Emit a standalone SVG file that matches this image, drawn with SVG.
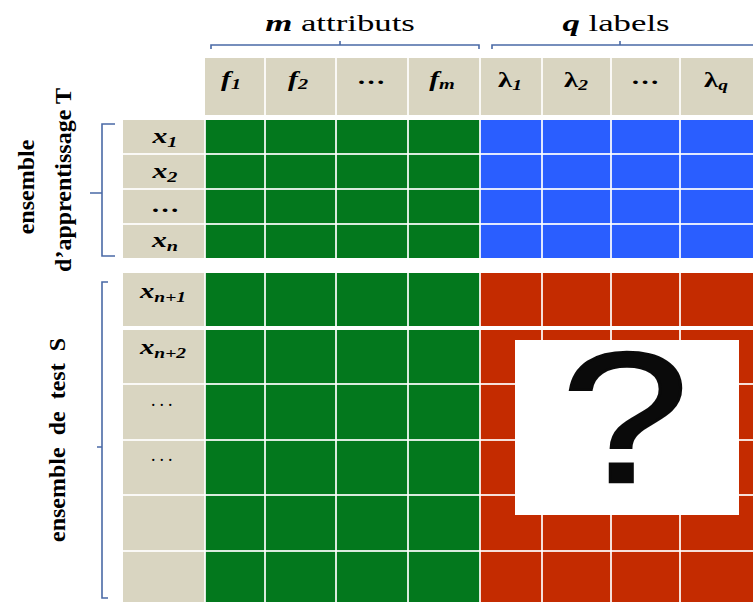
<svg xmlns="http://www.w3.org/2000/svg" width="753" height="602" viewBox="0 0 753 602">
<defs>
<style>
.g{fill:#03781d}.b{fill:#2a5eff}.r{fill:#c42b00}.h{fill:#d9d5c1}
.grid{stroke:#ffffff;stroke-width:2;stroke-opacity:0.85}
.br{fill:none;stroke:#4a6aa6;stroke-width:1.6}
.rot{font-family:"Liberation Serif","Times New Roman",serif;font-weight:bold;font-size:24px;fill:#000;text-anchor:middle}
.hl{font-family:"Liberation Serif","Times New Roman",serif;font-size:24px;fill:#000;text-anchor:middle}
.cl{font-family:"Liberation Serif","Times New Roman",serif;font-size:22px;fill:#000;text-anchor:middle;font-weight:bold}
.it{font-style:italic}
.sub{font-style:italic;font-size:15px}
</style>
</defs>
<rect width="753" height="602" fill="#ffffff"/>

<g id="header">
<rect class="h" x="205" y="58" width="548" height="57"/>
<g class="grid">
<line x1="265" y1="58" x2="265" y2="115"/><line x1="336" y1="58" x2="336" y2="115"/>
<line x1="408" y1="58" x2="408" y2="115"/><line x1="480" y1="58" x2="480" y2="115"/>
<line x1="542" y1="58" x2="542" y2="115"/><line x1="611" y1="58" x2="611" y2="115"/>
<line x1="680" y1="58" x2="680" y2="115"/>
</g>
<text class="cl" transform="translate(231,86) scale(1.35,1)"><tspan class="it">f</tspan><tspan class="sub" dy="3">1</tspan></text>
<text class="cl" transform="translate(298,86) scale(1.35,1)"><tspan class="it">f</tspan><tspan class="sub" dy="3">2</tspan></text>
<text class="cl" transform="translate(371,84) scale(1.3,1)">…</text>
<text class="cl" transform="translate(442,86) scale(1.35,1)"><tspan class="it">f</tspan><tspan class="sub" dy="3">m</tspan></text>
<text class="cl" transform="translate(510,87) scale(1.3,1)">λ<tspan class="sub" dy="3">1</tspan></text>
<text class="cl" transform="translate(576,87) scale(1.3,1)">λ<tspan class="sub" dy="3">2</tspan></text>
<text class="cl" transform="translate(645,84) scale(1.3,1)">…</text>
<text class="cl" transform="translate(716,87) scale(1.3,1)">λ<tspan class="sub" dy="3">q</tspan></text>
</g>

<g id="training">
<rect class="h" x="123" y="120" width="82" height="138"/>
<rect class="g" x="205" y="120" width="275" height="138"/>
<rect class="b" x="480" y="120" width="273" height="138"/>
<g class="grid">
<line x1="123" y1="154" x2="753" y2="154"/><line x1="123" y1="189" x2="753" y2="189"/>
<line x1="123" y1="224" x2="753" y2="224"/>
<line x1="205" y1="120" x2="205" y2="258"/><line x1="265" y1="120" x2="265" y2="258"/>
<line x1="336" y1="120" x2="336" y2="258"/><line x1="408" y1="120" x2="408" y2="258"/>
<line x1="480" y1="120" x2="480" y2="258"/><line x1="542" y1="120" x2="542" y2="258"/>
<line x1="611" y1="120" x2="611" y2="258"/><line x1="680" y1="120" x2="680" y2="258"/>
</g>
<text class="cl" transform="translate(165,143) scale(1.35,1)"><tspan class="it">x</tspan><tspan class="sub" dy="4">1</tspan></text>
<text class="cl" transform="translate(165,178) scale(1.35,1)"><tspan class="it">x</tspan><tspan class="sub" dy="4">2</tspan></text>
<text class="cl" transform="translate(165,212) scale(1.3,1)">…</text>
<text class="cl" transform="translate(165,247) scale(1.35,1)"><tspan class="it">x</tspan><tspan class="sub" dy="4">n</tspan></text>
</g>

<g id="test">
<rect class="h" x="123" y="273" width="82" height="329"/>
<rect class="g" x="205" y="273" width="275" height="329"/>
<rect class="r" x="480" y="273" width="273" height="329"/>
<rect x="123" y="326" width="630" height="4" fill="#ffffff"/>
<g class="grid">
<line x1="123" y1="384" x2="753" y2="384"/><line x1="123" y1="440" x2="753" y2="440"/>
<line x1="123" y1="495" x2="753" y2="495"/><line x1="123" y1="551" x2="753" y2="551"/>
<line x1="205" y1="273" x2="205" y2="602"/><line x1="265" y1="273" x2="265" y2="602"/>
<line x1="336" y1="273" x2="336" y2="602"/><line x1="408" y1="273" x2="408" y2="602"/>
<line x1="480" y1="273" x2="480" y2="602"/><line x1="542" y1="273" x2="542" y2="602"/>
<line x1="611" y1="273" x2="611" y2="602"/><line x1="680" y1="273" x2="680" y2="602"/>
</g>
<text class="cl" transform="translate(163,298) scale(1.3,1)"><tspan class="it">x</tspan><tspan class="sub" dy="4">n+1</tspan></text>
<text class="cl" transform="translate(163,354) scale(1.3,1)"><tspan class="it">x</tspan><tspan class="sub" dy="4">n+2</tspan></text>
<text transform="translate(163,411)" font-family="Liberation Serif, Times New Roman, serif" font-size="18" text-anchor="middle" letter-spacing="2.5">···</text>
<text transform="translate(163,466)" font-family="Liberation Serif, Times New Roman, serif" font-size="18" text-anchor="middle" letter-spacing="2.5">···</text>
</g>

<g id="question">
<rect x="515" y="340" width="224" height="175" fill="#ffffff"/>
<text transform="translate(625,482) scale(1.24,1)" font-family="Liberation Sans, Arial, sans-serif" font-size="186" text-anchor="middle" fill="#0a0a0a" stroke="#0a0a0a" stroke-width="2.5">?</text>
</g>

<g id="connectors">
<path class="br" d="M211,49 V45 H479 V49 M340,45 V41"/>
<path class="br" d="M492,49 V45 H753 M620,45 V41"/>
<path class="br" d="M115,124 H102 V256 H115 M102,193 H90"/>
<path class="br" d="M108,282 H102 V598 H108 M102,447 H97"/>
</g>

<g id="labels">
<text class="hl" transform="translate(340,31) scale(1.45,1)"><tspan font-weight="bold" font-style="italic">m</tspan> attributs</text>
<text class="hl" transform="translate(616,31) scale(1.45,1)"><tspan font-weight="bold" font-style="italic">q</tspan> labels</text>
<text class="rot" transform="translate(34,187) rotate(-90)">ensemble</text>
<text class="rot" transform="translate(71,180) rotate(-90)">d’apprentissage  T</text>
<text class="rot" transform="translate(65,440) rotate(-90)" word-spacing="6">ensemble de test  S</text>
</g>
</svg>
